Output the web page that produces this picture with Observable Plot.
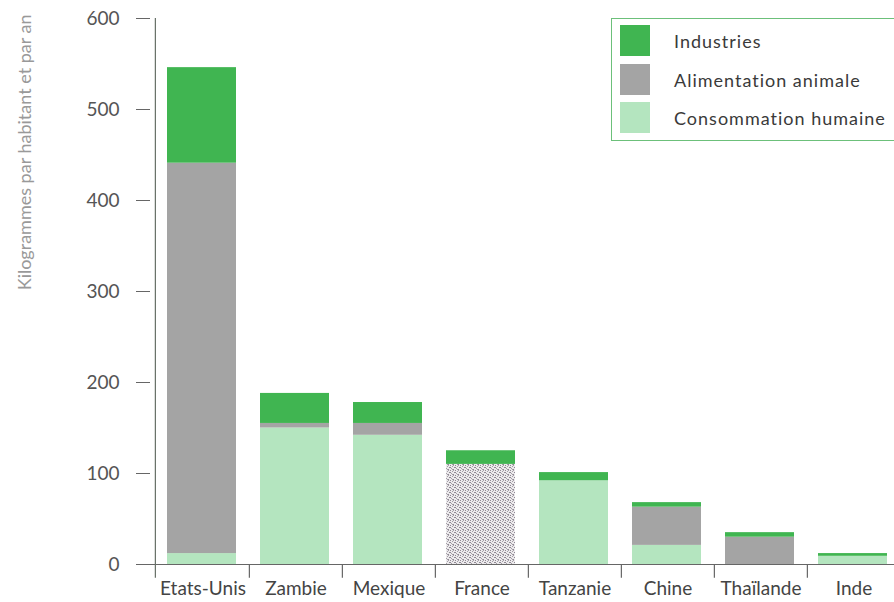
<!DOCTYPE html>
<html>
<head>
<meta charset="utf-8">
<script src="https://cdn.jsdelivr.net/npm/d3@7"></script>
<script src="https://cdn.jsdelivr.net/npm/@observablehq/plot@0.6"></script>
<style>
  html, body { margin: 0; padding: 0; background: #fff; overflow: hidden; }
  #wrap { position: relative; width: 894px; height: 602px; overflow: hidden; font-family: Lato, sans-serif; }
  #legend { position: absolute; left: 611px; top: 18px; width: 320px; height: 123px; border: 1.5px solid #6cc07a; box-sizing: border-box; background: #fff; }
  .li { position: absolute; left: 8px; display: flex; align-items: center; }
  .sw { width: 30px; height: 31px; }
  .lt { margin-left: 24px; font-size: 18px; color: #3a3a3a; letter-spacing: 1px; }
</style>
</head>
<body>
<div id="wrap"></div>
<script>
const countries = ["Etats-Unis", "Zambie", "Mexique", "France", "Tanzanie", "Chine", "Thaïlande", "Inde"];
const humaine    = [12, 150, 142, 0, 92, 21, 0, 9];
const animale    = [429, 5, 13, 110, 0, 42, 30, 0];
const industries = [105, 33, 23, 15, 9, 5, 5, 3];
const series = ["Consommation humaine", "Alimentation animale", "Industries"];
const legendOrder = ["Industries", "Alimentation animale", "Consommation humaine"];
const yTicks = [0, 100, 200, 300, 400, 500, 600];
const yTitle = "Kilogrammes par habitant et par an";

const colors = {
  "Consommation humaine": "#b4e5bf",
  "Alimentation animale": "#a4a4a4",
  "Industries": "#40b551",
  "stipple": "url(#stipple)"
};

const rows = [];
countries.forEach((c, i) => {
  [humaine[i], animale[i], industries[i]].forEach((v, j) => {
    const type = series[j];
    const col = (c === "France" && type === "Alimentation animale") ? "stipple" : type;
    rows.push({pays: c, type, col, val: v});
  });
});

const x0 = 155, x1 = 901;
const step = (x1 - x0) / countries.length;

const chart = Plot.plot({
  width: 894,
  height: 602,
  marginTop: 18,
  marginBottom: 38,
  marginLeft: 150,
  marginRight: 0,
  style: {fontFamily: "Lato, sans-serif", background: "#fff"},
  x: {domain: countries, range: [x0, x1], padding: 0},
  y: {domain: [0, 600], ticks: yTicks},
  color: {domain: Object.keys(colors), range: Object.values(colors)},
  marks: [
    Plot.barY(rows, {x: "pays", y: "val", z: "type", fill: "col", insetLeft: 11, insetRight: 13}),
    Plot.ruleY([0], {stroke: "#666", strokeWidth: 1.2}),
    Plot.ruleX([countries[0]], {dx: -step / 2 - 1, y1: -15, y2: 600, stroke: "#667066", strokeWidth: 1.2}),
    Plot.ruleX(countries.slice(1), {dx: -step / 2, y1: -15, y2: 0, stroke: "#666", strokeWidth: 1.2}),
    Plot.axisY({ticks: yTicks, tickSize: 14, tickPadding: 17, fontSize: 19, color: "#555", stroke: "#666", label: null, tickFormat: d => d}),
    Plot.axisX({tickSize: 0, tickPadding: 17, fontSize: 19, color: "#444", label: null}),
    Plot.text([yTitle], {frameAnchor: "top-left", rotate: -90, textAnchor: "end", dx: -132, dy: -4, fontSize: 18, fill: "#999"})
  ]
});

// stipple pattern for the France bar
const ns = "http://www.w3.org/2000/svg";
const defs = document.createElementNS(ns, "defs");
const pat = document.createElementNS(ns, "pattern");
pat.setAttribute("id", "stipple");
pat.setAttribute("patternUnits", "userSpaceOnUse");
pat.setAttribute("width", "5");
pat.setAttribute("height", "5");
const bg = document.createElementNS(ns, "rect");
bg.setAttribute("width", "5"); bg.setAttribute("height", "5"); bg.setAttribute("fill", "#eceaec");
pat.appendChild(bg);
[[0,0],[2,1],[4,2],[1,3],[3,4],[3,0],[0,2],[2,4]].forEach(([px, py], k) => {
  const r = document.createElementNS(ns, "rect");
  r.setAttribute("x", px); r.setAttribute("y", py);
  r.setAttribute("width", "1"); r.setAttribute("height", "1");
  r.setAttribute("fill", k % 2 ? "#a59fa8" : "#8f8893");
  pat.appendChild(r);
});
defs.appendChild(pat);
chart.insertBefore(defs, chart.firstChild);

const wrap = document.getElementById("wrap");
wrap.appendChild(chart);

const legend = document.createElement("div");
legend.id = "legend";
const tops = [6, 45, 83];
legendOrder.forEach((name, i) => {
  const item = document.createElement("div");
  item.className = "li";
  item.style.top = tops[i] + "px";
  const sw = document.createElement("div");
  sw.className = "sw";
  sw.style.background = colors[name];
  const t = document.createElement("span");
  t.className = "lt";
  t.textContent = name;
  item.appendChild(sw);
  item.appendChild(t);
  legend.appendChild(item);
});
wrap.appendChild(legend);
</script>
</body>
</html>
